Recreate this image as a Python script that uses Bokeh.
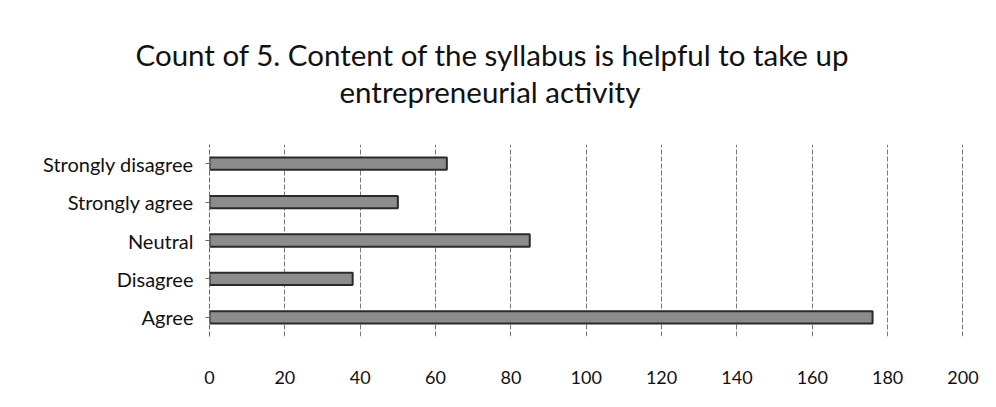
from bokeh.plotting import figure
from bokeh.models import Title, FixedTicker, Range1d
from bokeh.embed import file_html
from bokeh.resources import INLINE

categories = ["Agree", "Disagree", "Neutral", "Strongly agree", "Strongly disagree"]
counts = [176, 38, 85, 50, 63]
x_ticks = [0, 20, 40, 60, 80, 100, 120, 140, 160, 180, 200]
title_lines = ["Count of 5. Content of the syllabus is helpful to take up",
               "entrepreneurial activity"]

FONT = "Lato"

p = figure(width=980, height=391, y_range=categories, x_range=Range1d(0, 200.4),
           output_backend="svg", toolbar_location=None, title=None,
           min_border_left=209, min_border_right=16, min_border_top=0,
           min_border_bottom=55)
p.outline_line_color = None

p.hbar(y=categories, right=counts, left=0, height=0.32,
       fill_color="#8c8c8c", line_color="#2a2a2a", line_width=2)

def title(text, size, offset=0):
    return Title(text=text, align="left", offset=offset, text_font=FONT,
                 text_font_size=size, text_font_style="normal",
                 text_color="#111111", standoff=0)

# stacked from the frame outward: spacer, line 2, line 1, spacer
p.add_layout(title(" ", "28.5px"), "above")
p.add_layout(title(title_lines[1], "29.5px", 130), "above")
p.add_layout(title(title_lines[0], "29.5px", -74), "above")
p.add_layout(title(" ", "26.5px"), "above")

p.xaxis.ticker = FixedTicker(ticks=x_ticks)
p.xaxis.axis_line_color = None
p.xaxis.major_tick_line_color = None
p.xaxis.minor_tick_line_color = None
p.xaxis.major_label_standoff = 28
p.xaxis.major_label_text_font = FONT
p.xaxis.major_label_text_font_size = "18px"
p.xaxis.major_label_text_color = "#111111"

p.yaxis.axis_line_color = "#666666"
p.yaxis.axis_line_dash = "5 2"
p.yaxis.major_tick_line_color = "#666666"
p.yaxis.major_tick_in = 0
p.yaxis.major_tick_out = 4
p.yaxis.major_label_standoff = 12
p.yaxis.major_label_text_font = FONT
p.yaxis.major_label_text_font_size = "20px"
p.yaxis.major_label_text_color = "#111111"

p.xgrid.grid_line_color = "#777777"
p.xgrid.grid_line_dash = "5 2"
p.ygrid.grid_line_color = None

open("out.html", "w").write(file_html(p, INLINE))
